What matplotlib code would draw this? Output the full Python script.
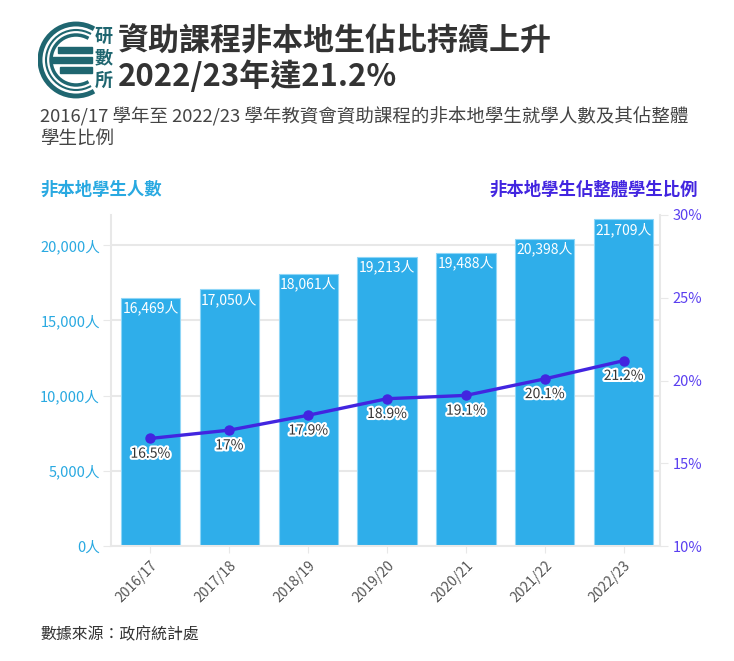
import matplotlib
matplotlib.use('Agg')
import matplotlib.pyplot as plt
import matplotlib.patheffects as pe
from matplotlib.patches import Arc, Rectangle
import numpy as np

plt.rcParams['font.family'] = ['Noto Sans CJK TC', 'DejaVu Sans']

years = ['2016/17', '2017/18', '2018/19', '2019/20', '2020/21', '2021/22', '2022/23']
students = [16469, 17050, 18061, 19213, 19488, 20398, 21709]
share = [16.5, 17, 17.9, 18.9, 19.1, 20.1, 21.2]
share_lbl = ['16.5%', '17%', '17.9%', '18.9%', '19.1%', '20.1%', '21.2%']
left_ticks = [0, 5000, 10000, 15000, 20000]
right_ticks = [10, 15, 20, 25, 30]

bar_c = '#2faeea'
line_c = '#4225e0'
left_c = '#29a9e1'
right_c = '#5a3ff0'
grid_c = '#e8e8e8'

fig = plt.figure(figsize=(7.34, 6.61), dpi=100)

# title / subtitle
fig.text(118/734, 1 - 42/661, '資助課程非本地生佔比持續上升', fontsize=22.3,
         fontweight='bold', color='#333333', va='center')
fig.text(118/734, 1 - 77/661, '2022/23年達21.2%', fontsize=22.3,
         fontweight='bold', color='#333333', va='center')
fig.text(40/734, 1 - 117/661, '2016/17 學年至 2022/23 學年教資會資助課程的非本地學生就學人數及其佔整體',
         fontsize=13.3, color='#444444', va='center')
fig.text(40/734, 1 - 139/661, '學生比例', fontsize=13.3, color='#444444', va='center')
fig.text(40/734, 1 - 190/661, '非本地學生人數', fontsize=12.5, fontweight='bold',
         color=left_c, va='center')
fig.text(698/734, 1 - 190/661, '非本地學生佔整體學生比例', fontsize=12.5, fontweight='bold',
         color=line_c, va='center', ha='right')
fig.text(40/734, 1 - 635/661, '數據來源：政府統計處', fontsize=11.4, color='#333333', va='center')

# logo (rough)
lg = fig.add_axes([38/734, 1 - 100/661, 80/734, 80/661])
lg.set_xlim(0, 80)
lg.set_ylim(0, 80)
lg.axis('off')
teal = '#1f6670'
for r, w in [(36, 3.5), (30, 1.5), (25, 2.5)]:
    lg.add_patch(Arc((38, 40), 2*r, 2*r, theta1=60, theta2=300, color=teal, lw=w))
lg.add_patch(Rectangle((20, 47), 34, 6, color=teal))
lg.add_patch(Rectangle((14, 37), 40, 6, color=teal))
lg.add_patch(Rectangle((22, 27), 32, 6, color=teal))
for i, ch in enumerate('研數所'):
    lg.text(66, 64 - i*22, ch, fontsize=13, fontweight='bold', color=teal,
            ha='center', va='center')

# main chart
ax = fig.add_axes([111/734, 1 - 546/661, 549/734, 331/661])
x = np.arange(len(years))
bars = ax.bar(x, students, width=0.75, color=bar_c, edgecolor='#8fd6f7',
              linewidth=0.8, zorder=2)
ax.set_xlim(-0.5, 6.46)
ax.set_ylim(0, 22000)
ax.set_yticks(left_ticks)
ax.set_yticklabels([f'{v:,}人' for v in left_ticks], color=left_c, fontsize=10.5)
ax.set_xticks(x)
ax.set_xticklabels(years, rotation=45, ha='right', rotation_mode='anchor',
                   fontsize=10, color='#555555')
ax.tick_params(axis='y', length=6, color=grid_c, pad=2)
ax.tick_params(axis='x', length=5, color=grid_c, pad=4)
ax.grid(axis='y', color=grid_c, lw=1.5, zorder=0)
ax.set_axisbelow(True)
for s in ['top', 'right']:
    ax.spines[s].set_visible(False)
ax.spines['left'].set_color(grid_c)
ax.spines['bottom'].set_color(grid_c)
ax.spines['left'].set_linewidth(1.5)
ax.spines['bottom'].set_linewidth(1.5)

for xi, v in zip(x, students):
    ax.annotate(f'{v:,}人', (xi, v), xytext=(0, -2), textcoords='offset points',
                ha='center', va='top', color='white', fontsize=10,
                fontweight='medium', zorder=4)

ax2 = ax.twinx()
ax2.set_ylim(10, 30)
ax2.set_yticks(right_ticks)
ax2.set_yticklabels([f'{v}%' for v in right_ticks], color=right_c, fontsize=10.5)
ax2.tick_params(axis='y', length=6, color=grid_c, pad=3)
for s in ['top', 'left', 'bottom']:
    ax2.spines[s].set_visible(False)
ax2.spines['right'].set_color(grid_c)
ax2.spines['right'].set_linewidth(1.5)
ax2.plot(x, share, color=line_c, lw=2.4, marker='o', markersize=6.5, zorder=5)
for xi, v, t in zip(x, share, share_lbl):
    ax2.annotate(t, (xi, v), xytext=(0, -11), textcoords='offset points',
                 ha='center', va='center', color='#333333', fontsize=10,
                 path_effects=[pe.withStroke(linewidth=3, foreground='white')])

fig.savefig('out.png', dpi=100)
